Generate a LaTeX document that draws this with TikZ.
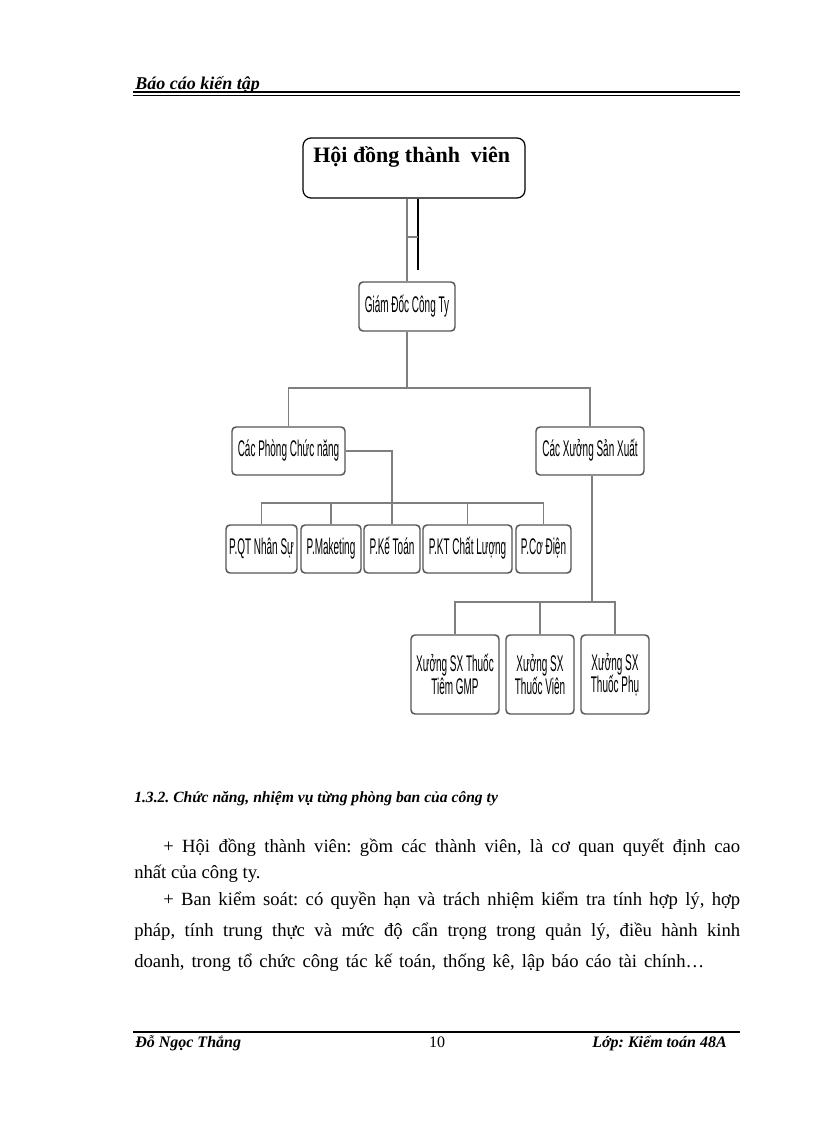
\documentclass[tikz,border=0pt]{standalone}
\usepackage{fontspec}
\usepackage{xcolor}
\usepackage{tikz}
\usetikzlibrary{positioning,calc}
\setmainfont{Liberation Serif}
\newfontfamily\narrowsans[FakeStretch=0.44]{Liberation Sans}
\definecolor{orgline}{HTML}{7F7F7F}
\definecolor{orgedge}{HTML}{555555}
\tikzset{
  unitbox/.style={rectangle,rounded corners=3pt,draw=orgedge,line width=1.1pt,
                  fill=white,inner sep=1pt,align=center,text=black,
                  font=\narrowsans\fontsize{17}{17}\selectfont},
  oneline/.style={unitbox,text height=12pt,text depth=3.5pt},
  boardbox/.style={rectangle,rounded corners=6pt,draw=black,line width=0.9pt,
                   fill=white,inner sep=0pt},
  link/.style={draw=orgline,line width=1.2pt},
  bodyline/.style={anchor=base west,inner sep=0pt,font=\fontsize{14}{16}\selectfont},
  pagenote/.style={inner sep=0pt,font=\bfseries\itshape\fontsize{12}{14}\selectfont},
  rule/.style={draw=black,line width=1.5pt},
}
\frenchspacing
\begin{document}
\begin{tikzpicture}[x=0.75pt,y=-0.75pt]
\fill[white] (0,0) rectangle (816,1123);
\useasboundingbox (0,0) rectangle (816,1123);

% page header and footer
\node[pagenote,anchor=base west,font=\bfseries\itshape\fontsize{13.5}{15}\selectfont]
  (headtxt) at (135,90) {Báo cáo kiến tập};
\coordinate (headl) at (133,92);
\coordinate (headr) at (740,92);
\draw[rule] (headl) -- (headr);
\draw[black,line width=0.5pt] ($(headl)+(0,3)$) -- ($(headr)+(0,3)$);

\coordinate (footl) at (133,1032);
\coordinate (footr) at (740,1032);
\draw[rule] (footl) -- (footr);
\node[pagenote,anchor=base west] (author) at (135,1047) {Đỗ Ngọc Thắng};
\node[anchor=base,inner sep=0pt,font=\fontsize{12}{14}\selectfont]
  (pageno) at (437,1047) {10};
\node[pagenote,anchor=base east] (klass) at (727,1047) {Lớp: Kiểm toán 48A};

% org chart
\node[boardbox,minimum width=166.5pt,minimum height=45pt] (board) at (414,168) {};
\node[anchor=north west,inner sep=0pt,font=\bfseries\fontsize{16.5}{19}\selectfont]
  (boardtxt) at (313,146) {Hội đồng thành~ viên};

\node[oneline,minimum width=72pt,minimum height=36.75pt] (gd) at (407,306.5) {Giám Đốc Công Ty};
\node[oneline,minimum width=84.75pt,minimum height=36pt] (cpcn) at (288.5,451) {Các Phòng Chức năng};
\node[oneline,minimum width=81pt,minimum height=36pt] (cxsx) at (590,451) {Các Xưởng Sản Xuất};

\node[oneline,minimum width=53.25pt,minimum height=36pt] (pqt) at (261.5,549) {P.QT Nhân Sự};
\node[oneline,minimum width=45pt,minimum height=36pt] (pmk) at (331,549) {P.Maketing};
\node[oneline,minimum width=42pt,minimum height=36pt] (pkt) at (392,549) {P.Kế Toán};
\node[oneline,minimum width=66.75pt,minimum height=36pt] (pcl) at (467.5,549) {P.KT Chất Lượng};
\node[oneline,minimum width=41.25pt,minimum height=36pt] (pcd) at (543.5,549) {P.Cơ Điện};

\node[unitbox,minimum width=66pt,minimum height=59.25pt] (xtiem) at (455,674.5) {Xưởng SX Thuốc\\Tiêm GMP};
\node[unitbox,minimum width=51pt,minimum height=59.25pt] (xvien) at (540,674.5) {Xưởng SX\\Thuốc Viên};
\node[unitbox,minimum width=51pt,minimum height=59.25pt] (xphu) at (615,674.5) {Xưởng SX\\Thuốc Phụ};

% board to director
\coordinate (ctrlend) at (418,270);
\coordinate (tick) at (418,237);
\draw[link] (gd.north) -- (gd.north |- board.south);
\draw[black,line width=1pt] (ctrlend |- board.south) -- (ctrlend);
\draw[link] (gd.north |- tick) -- (tick);

% director to the two branches
\coordinate (bus1) at (407,388);
\draw[link] (gd.south) -- (bus1);
\draw[link] (cpcn.north) |- (bus1) -| (cxsx.north);

% departments
\coordinate (bus2) at (392,503);
\draw[link] (cpcn.east) -| (pkt.north);
\draw[link] (pqt.north) |- (bus2) -| (pcd.north);
\draw[link] (pmk.north) -- (pmk.north |- bus2);
\draw[link] (pcl.north) -- (pcl.north |- bus2);

% workshops
\coordinate (bus3) at (592,602);
\draw[link] (cxsx.south -| bus3) -- (bus3);
\draw[link] (xtiem.north) |- (bus3) -| (xphu.north);
\draw[link] (xvien.north) -- (xvien.north |- bus3);

% section text
\node[anchor=base west,inner sep=0pt,font=\bfseries\itshape\fontsize{11.7}{14}\selectfont]
  (sect) at (134,802) {1.3.2. Chức năng, nhiệm vụ từng phòng ban của công ty};
\node[bodyline] (par1a) at (163,852)
  {\makebox[432.75pt][s]{+ Hội đồng thành viên: gồm các thành viên, là cơ quan quyết định cao}};
\node[bodyline] (par1b) at (134,878) {nhất của công ty.};
\node[bodyline] (par2a) at (163,905)
  {\makebox[432.75pt][s]{+ Ban kiểm soát: có quyền hạn và trách nhiệm kiểm tra tính hợp lý, hợp}};
\node[bodyline] (par2b) at (134,936)
  {\makebox[454.5pt][s]{pháp, tính trung thực và mức độ cẩn trọng trong quản lý, điều hành kinh}};
\node[bodyline] (par2c) at (134,967)
  {\makebox[427.5pt][s]{doanh, trong tổ chức công tác kế toán, thống kê, lập báo cáo tài chính…}};
\end{tikzpicture}
\end{document}
